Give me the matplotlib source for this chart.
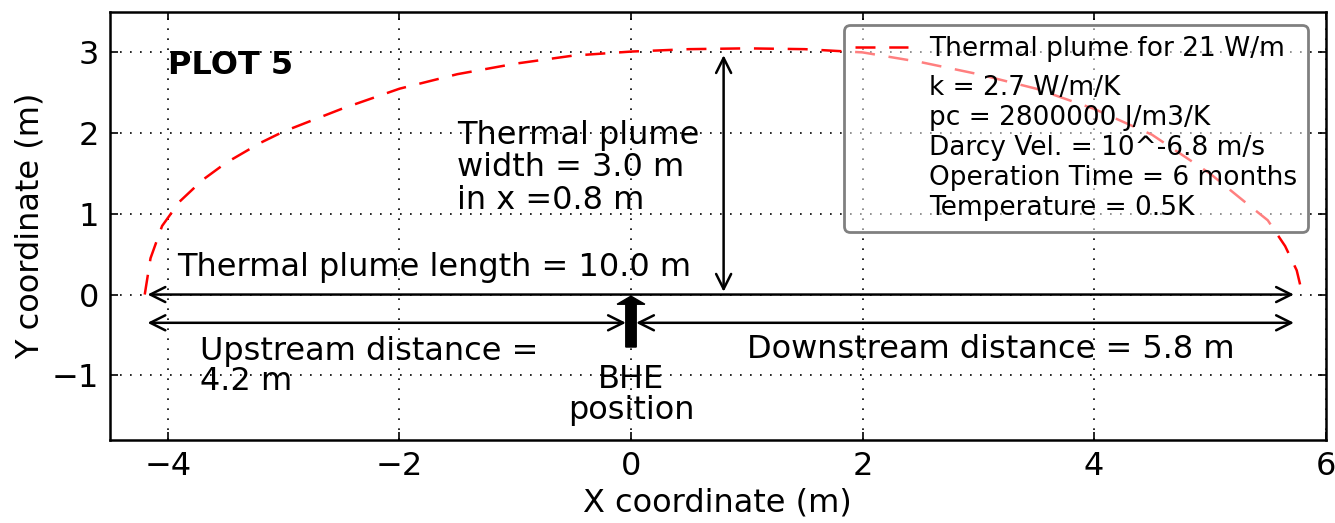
import numpy as np
import matplotlib
matplotlib.use('Agg')
import matplotlib.pyplot as plt
from matplotlib.lines import Line2D

# ----------------------------------------------------------------
# plume contour (upper half)
plume_x = [-4.2, -4.15, -4.05, -3.9, -3.7, -3.5, -3.2, -3.0, -2.5, -2.0, -1.5, -1.0, -0.5,
           0.0, 0.5, 1.0, 1.5, 2.0, 2.5, 3.0, 3.5, 4.0, 4.5, 5.0, 5.3, 5.5, 5.65, 5.75, 5.8]
plume_y = [0.0, 0.45, 0.85, 1.15, 1.42, 1.63, 1.88, 2.02, 2.3, 2.55, 2.73, 2.86, 2.96,
           3.01, 3.04, 3.05, 3.04, 3.0, 2.88, 2.73, 2.55, 2.3, 1.98, 1.5, 1.15, 0.92, 0.6, 0.3, 0.0]

upstream = 4.2
downstream = 5.8
plume_width = 3.0
width_pos = 0.8
legend_label = 'Thermal plume for 21 W/m'
info_lines = ['k = 2.7 W/m/K', 'pc = 2800000 J/m3/K', 'Darcy Vel. = 10^-6.8 m/s',
              'Operation Time = 6 months', 'Temperature = 0.5K']

# ----------------------------------------------------------------

fsize = 23

plt.rcParams['font.family'] = 'DejaVu Sans'
plt.rcParams['xtick.direction'] = 'in'
plt.rcParams['ytick.direction'] = 'in'
plt.rcParams['xtick.top'] = True
plt.rcParams['ytick.right'] = True
plt.rcParams['xtick.major.size'] = 6
plt.rcParams['ytick.major.size'] = 6

fig = plt.figure(figsize=(13.35, 5.23), dpi=100)
ax = fig.add_axes([0.0824, 0.159, 0.9106, 0.818])

ax.plot(plume_x, plume_y, color='red', linestyle='--', dashes=(8, 5.5), linewidth=1.8, label=legend_label)

arrow = dict(arrowstyle='<->', color='black', lw=1.8, mutation_scale=27)
# plume length
ax.annotate('', xy=(-upstream, 0), xytext=(downstream - 0.05, 0), arrowprops=arrow)
# upstream / downstream
ax.annotate('', xy=(-upstream, -0.35), xytext=(-0.02, -0.35), arrowprops=arrow)
ax.annotate('', xy=(0.02, -0.35), xytext=(downstream - 0.05, -0.35), arrowprops=arrow)
# plume width
ax.annotate('', xy=(width_pos, 0.0), xytext=(width_pos, plume_width), arrowprops=arrow)
# BHE position
ax.arrow(0, -0.65, 0, 0.53, width=0.09, head_width=0.24, head_length=0.1, fc='black', ec='black')

ax.text(-4.0, 2.84, 'PLOT 5', fontsize=fsize, fontweight='bold', va='center', ha='left')
ax.text(-1.5, 1.57, 'Thermal plume\nwidth = %.1f m\nin x =%.1f m' % (plume_width, width_pos),
        fontsize=fsize, va='center', ha='left', linespacing=1.05)
ax.text(-3.92, 0.33, 'Thermal plume length = %.1f m' % (upstream + downstream),
        fontsize=fsize, va='center', ha='left')
ax.text(-3.72, -0.89, 'Upstream distance =\n%.1f m' % upstream,
        fontsize=fsize, va='center', ha='left', linespacing=0.95)
ax.text(0.0, -1.25, 'BHE\nposition', fontsize=fsize, va='center', ha='center', linespacing=1.0)
ax.text(1.0, -0.68, 'Downstream distance = %.1f m' % downstream,
        fontsize=fsize, va='center', ha='left')

ax.set_xlim(-4.5, 6)
ax.set_ylim(-1.8, 3.5)
ax.set_xticks([-4, -2, 0, 2, 4, 6])
ax.set_yticks([-1, 0, 1, 2, 3])
ax.tick_params(labelsize=fsize, width=1.2, pad=8)
ax.grid(True, color='black', linestyle=(0, (1, 5)), linewidth=1.2)
for s in ax.spines.values():
    s.set_linewidth(1.8)

ax.set_xlabel('X coordinate (m)', fontsize=fsize)
ax.set_ylabel('Y coordinate (m)', fontsize=fsize)

handles = [Line2D([], [], color='red', linestyle='--', dashes=(8, 5.5), linewidth=1.8),
           Line2D([], [], color='none')]
leg = ax.legend(handles, [legend_label, '\n'.join(info_lines)], loc='upper right',
                fontsize=19, fancybox=True, labelspacing=0.5,
                borderaxespad=0.5, handlelength=2.0, bbox_to_anchor=(0.996, 1.0))
frame = leg.get_frame()
frame.set_alpha(None)
frame.set_facecolor((1, 1, 1, 0.5))
frame.set_edgecolor('0.5')
frame.set_linewidth(2)

fig.savefig('out.png', dpi=100)
